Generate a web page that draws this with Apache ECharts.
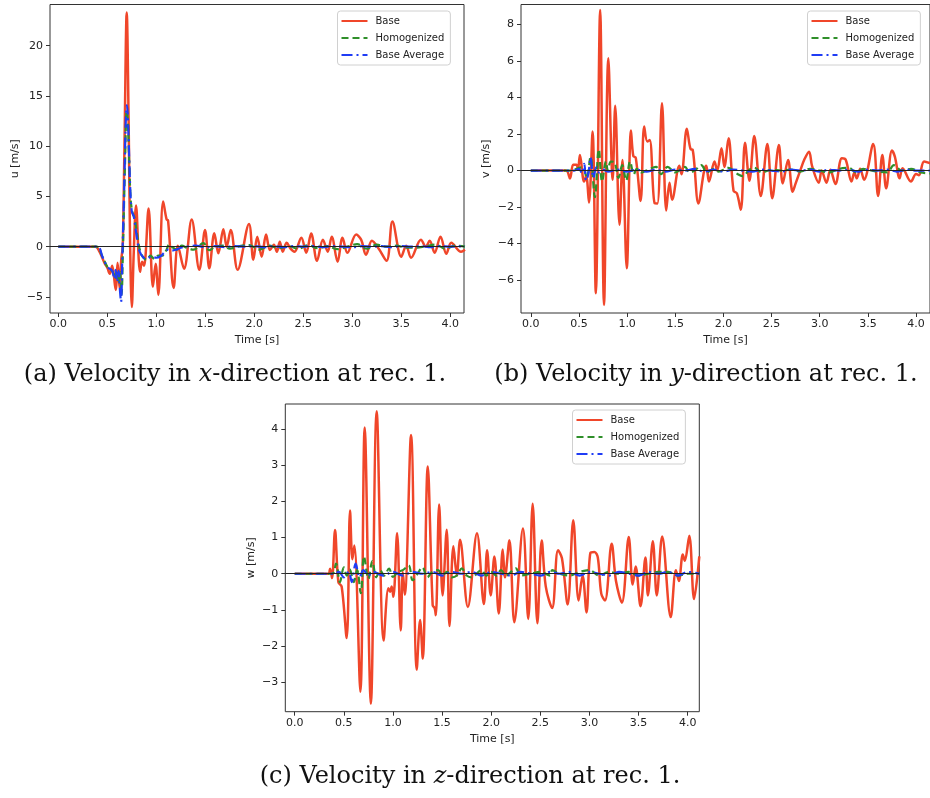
<!DOCTYPE html>
<html><head><meta charset="utf-8">
<script src="https://cdn.jsdelivr.net/npm/echarts@6/dist/echarts.min.js"></script>
<style>html,body{margin:0;padding:0;background:#fff}#c{width:930px;height:798px}</style>
</head><body><div id="c"></div>
<script>
// ---- data (time [s], value [m/s]) ----
const baseU = [[0,0],[0.38,0],[0.42,-0.5],[0.47,-1.6],[0.5,-2.1],[0.525,-2.7],[0.55,-1.9],[0.585,-4.3],[0.605,-1.6],[0.625,-4.1],[0.642,-1.3],[0.657,0],[0.675,10],[0.698,23.3],[0.718,12],[0.733,0],[0.75,-6.0],[0.77,-0.5],[0.793,4.1],[0.834,-2.5],[0.855,-1.5],[0.875,-1.9],[0.921,3.8],[0.965,-4.0],[0.993,-1.7],[1.02,-4.8],[1.07,4.5],[1.105,2.7],[1.12,2.6],[1.177,-4.1],[1.22,0.1],[1.283,-2.2],[1.361,2.7],[1.439,-2.3],[1.497,1.66],[1.541,-2.15],[1.592,1.33],[1.633,-0.66],[1.684,1.73],[1.718,0],[1.759,1.66],[1.83,-2.3],[1.946,2.26],[1.99,-1.3],[2.03,1.0],[2.075,-1.0],[2.12,1.2],[2.16,-0.33],[2.2,0.2],[2.23,-0.5],[2.26,0.5],[2.29,-0.5],[2.33,0.4],[2.37,-0.2],[2.41,-0.5],[2.48,0.9],[2.53,-0.6],[2.58,1.3],[2.64,-1.4],[2.70,0.7],[2.75,-0.5],[2.79,1.0],[2.85,-1.5],[2.90,0.9],[2.95,-0.6],[3.04,1.2],[3.09,0.7],[3.14,-0.8],[3.2,0.6],[3.27,-0.2],[3.35,-1.4],[3.41,2.5],[3.50,-1.0],[3.55,0.1],[3.60,-1.1],[3.70,0.7],[3.75,0],[3.79,0.6],[3.84,-0.6],[3.90,1.0],[3.96,-0.7],[4.01,0.4],[4.11,-0.5],[4.15,-0.3]];
const homU = [[0,0],[0.39,0],[0.45,-1.0],[0.5,-2.0],[0.53,-2.2],[0.56,-2.6],[0.58,-3.2],[0.595,-2.3],[0.615,-3.6],[0.63,-2.5],[0.645,-4.8],[0.66,0],[0.68,8],[0.698,13.5],[0.71,12.3],[0.725,8],[0.74,4.5],[0.76,3.3],[0.78,2.8],[0.81,0.8],[0.84,-0.6],[0.87,-1.1],[0.9,-1.3],[0.94,-0.9],[0.98,-1.2],[1.02,-0.9],[1.06,-0.9],[1.1,-0.4],[1.13,0.2],[1.17,-0.1],[1.21,-0.3],[1.26,0.1],[1.31,-0.1],[1.38,-0.3],[1.48,0.35],[1.54,-0.35],[1.6,0],[1.68,0.1],[1.75,-0.2],[1.85,0.05],[1.95,0.15],[2.05,-0.3],[2.15,0.1],[2.25,-0.15],[2.35,0.05],[2.45,-0.2],[2.55,0.15],[2.65,-0.15],[2.75,0.05],[2.85,-0.25],[2.95,0],[3.05,0.25],[3.15,-0.2],[3.25,0.2],[3.35,0],[3.45,0.1],[3.55,-0.1],[3.65,-0.1],[3.75,0.05],[3.85,0.2],[3.95,-0.2],[4.05,0.1],[4.15,0]];
const avgU = [[0,0],[0.4,0],[0.45,-1.0],[0.5,-2.0],[0.55,-2.4],[0.57,-3.2],[0.585,-2.3],[0.6,-3.5],[0.615,-2.4],[0.63,-4.5],[0.64,-5.5],[0.652,-1.5],[0.67,5],[0.69,13],[0.7,14.1],[0.71,12.8],[0.72,10],[0.735,5.5],[0.75,3.5],[0.77,3.0],[0.8,1.0],[0.83,-0.5],[0.87,-1.1],[0.9,-1.2],[0.95,-1.0],[1.0,-1.1],[1.05,-0.9],[1.08,-0.6],[1.12,-0.3],[1.15,-0.4],[1.2,-0.3],[1.25,-0.1],[1.3,0],[1.4,0.1],[1.5,-0.05],[1.6,0.05],[1.7,-0.05],[1.8,0.05],[1.9,0],[2.0,0.05],[2.1,-0.05],[2.2,0.05],[2.3,-0.05],[2.4,0.05],[2.5,0],[2.6,0.05],[2.7,-0.05],[2.8,0.05],[2.9,0],[3.0,-0.05],[3.1,0.05],[3.2,0],[3.3,0.05],[3.4,-0.05],[3.5,0.05],[3.6,0],[3.7,0.05],[3.8,-0.05],[3.9,0.05],[4.0,0],[4.15,0.05]];

const baseV = [[0,0],[0.365,0],[0.406,-0.43],[0.44,0.32],[0.474,0.32],[0.49,0.1],[0.51,0.85],[0.553,-0.6],[0.575,-0.3],[0.604,-1.75],[0.641,2.14],[0.675,-6.72],[0.72,8.8],[0.76,-7.36],[0.805,6.16],[0.85,-0.5],[0.876,3.55],[0.921,-2.97],[0.952,0.58],[0.996,-5.35],[1.04,2.2],[1.064,0.8],[1.09,0.7],[1.14,-1.66],[1.177,2.41],[1.21,1.59],[1.235,1.68],[1.286,-1.79],[1.314,-1.8],[1.362,3.69],[1.406,-2.19],[1.44,-0.66],[1.467,-1.6],[1.542,0.26],[1.565,-0.2],[1.62,2.29],[1.66,1.17],[1.68,1.15],[1.74,-1.8],[1.8,0],[1.822,0.26],[1.85,-0.6],[1.907,0.5],[1.935,0],[1.98,1.22],[2.01,0.2],[2.053,1.77],[2.105,-1.1],[2.14,-1.25],[2.18,-2.15],[2.224,1.53],[2.27,-0.55],[2.32,1.9],[2.388,-1.39],[2.456,1.46],[2.507,-1.52],[2.576,1.4],[2.616,-0.7],[2.671,0.58],[2.719,-1.16],[2.75,-0.7],[2.8,0.04],[2.838,0.58],[2.889,1.04],[2.92,0.26],[2.99,-0.66],[3.02,0],[3.07,-0.66],[3.11,0.05],[3.163,-0.73],[3.23,0.68],[3.27,0.6],[3.33,-0.6],[3.36,-0.1],[3.385,-0.42],[3.42,0.1],[3.46,-0.5],[3.555,1.46],[3.606,-1.39],[3.65,0.86],[3.69,-0.97],[3.75,1.1],[3.78,0.77],[3.83,-0.42],[3.86,0.13],[3.947,-0.6],[4.0,-0.18],[4.03,-0.25],[4.084,0.5],[4.15,0.4]];
const homV = [[0,0],[0.4,0],[0.45,0.05],[0.5,0.15],[0.54,0.18],[0.58,-0.4],[0.62,0.75],[0.665,-1.45],[0.706,1.17],[0.74,-0.6],[0.78,0.5],[0.8,0],[0.83,0.5],[0.87,0.45],[0.91,-0.4],[0.95,0.3],[0.99,-0.55],[1.03,0.5],[1.07,-0.2],[1.1,0.1],[1.15,-0.1],[1.2,0],[1.3,0.2],[1.35,-0.2],[1.42,0.2],[1.5,-0.1],[1.55,0.05],[1.6,0.2],[1.65,-0.1],[1.7,0],[1.77,0.3],[1.83,-0.1],[1.9,0.1],[1.95,-0.05],[2.05,0.15],[2.15,-0.2],[2.2,-0.3],[2.27,0.05],[2.32,0.15],[2.4,-0.1],[2.5,0.05],[2.6,0],[2.7,0.05],[2.8,-0.05],[2.9,0.1],[3.0,0],[3.1,-0.1],[3.2,0.1],[3.3,0.15],[3.38,-0.1],[3.45,0.1],[3.5,0.05],[3.6,-0.05],[3.7,-0.1],[3.77,0.3],[3.85,0],[3.95,0.1],[4.05,-0.1],[4.15,-0.15]];
const avgV = [[0,0],[0.45,0],[0.5,0.1],[0.53,-0.15],[0.555,0.37],[0.575,-0.55],[0.6,-0.1],[0.62,0.72],[0.65,-0.4],[0.68,0.18],[0.71,-0.1],[0.75,0.05],[0.8,-0.05],[0.9,0.05],[1.0,-0.05],[1.1,0.05],[1.2,-0.05],[1.3,0.05],[1.4,-0.05],[1.5,0.05],[1.6,0],[1.7,0.1],[1.8,-0.05],[1.9,0.05],[2.0,-0.05],[2.1,0.05],[2.2,0],[2.3,-0.05],[2.4,0.05],[2.5,0],[2.6,-0.05],[2.7,0.05],[2.8,0],[2.9,0.05],[3.0,-0.05],[3.1,0.05],[3.2,0],[3.3,0.05],[3.4,-0.05],[3.5,0.05],[3.6,0],[3.7,0.05],[3.8,-0.05],[3.9,0.05],[4.0,0],[4.15,0]];

const baseW = [[0,0],[0.34,0],[0.36,0.14],[0.38,-0.12],[0.41,1.21],[0.444,-0.23],[0.478,-0.36],[0.529,-1.78],[0.563,1.75],[0.587,0.4],[0.607,0.78],[0.668,-3.27],[0.712,4.05],[0.775,-3.6],[0.834,4.5],[0.905,-1.85],[0.953,-0.4],[0.97,-0.5],[0.987,-0.35],[1.004,-0.64],[1.042,1.12],[1.079,-1.57],[1.1,0.05],[1.12,-0.58],[1.184,3.84],[1.242,-2.66],[1.276,-1.28],[1.303,-2.35],[1.354,2.97],[1.404,-0.87],[1.425,-0.96],[1.436,-1.15],[1.47,1.92],[1.505,-0.6],[1.547,1.22],[1.575,-1.45],[1.615,0.76],[1.65,-0.05],[1.683,0.94],[1.762,-0.92],[1.855,1.12],[1.925,-0.84],[1.958,0.65],[1.995,-0.6],[2.032,0.48],[2.077,-1.1],[2.117,0.67],[2.14,-0.1],[2.185,0.93],[2.235,-1.34],[2.323,1.25],[2.377,-1.25],[2.422,1.94],[2.47,-1.37],[2.514,0.92],[2.555,-0.35],[2.62,-0.95],[2.68,0.65],[2.72,0.43],[2.778,-0.85],[2.835,1.48],[2.89,-0.74],[2.93,-0.05],[2.97,-1.07],[3.01,0.58],[3.05,0.6],[3.085,0.45],[3.12,-0.55],[3.158,-0.74],[3.226,0.83],[3.27,-0.2],[3.33,-0.8],[3.40,1.02],[3.44,-0.3],[3.47,0.2],[3.52,-0.9],[3.57,0.45],[3.595,-0.6],[3.645,0.9],[3.685,-0.6],[3.74,1.03],[3.827,-1.2],[3.88,0.1],[3.91,-0.2],[3.95,0.53],[3.97,0.36],[4.016,1.05],[4.065,-0.7],[4.118,0.48]];
const homW = [[0,0],[0.38,0],[0.42,0.28],[0.46,-0.23],[0.5,0.18],[0.53,-0.05],[0.56,0.12],[0.6,-0.23],[0.635,0.1],[0.672,-0.54],[0.705,0.48],[0.75,-0.14],[0.79,0.35],[0.83,-0.1],[0.87,0.1],[0.91,-0.05],[0.96,0.14],[1.0,-0.09],[1.05,0.05],[1.1,0.1],[1.16,0.23],[1.2,-0.18],[1.25,0],[1.3,0.18],[1.35,-0.1],[1.4,0.05],[1.46,0.1],[1.5,-0.05],[1.55,0.05],[1.6,-0.1],[1.65,-0.05],[1.7,0.15],[1.75,-0.05],[1.8,-0.1],[1.9,0.1],[1.95,-0.05],[2.0,0.05],[2.05,-0.05],[2.1,0.1],[2.15,-0.05],[2.2,0.05],[2.25,0.15],[2.3,-0.05],[2.4,0],[2.5,0.05],[2.6,-0.05],[2.62,0.1],[2.7,0],[2.8,-0.05],[2.9,0.05],[3.0,0.1],[3.1,-0.05],[3.2,0.05],[3.3,0],[3.4,0.05],[3.5,-0.05],[3.6,0],[3.7,0.05],[3.8,0.05],[3.9,-0.05],[4.0,0],[4.12,0]];
const avgW = [[0,0],[0.4,0],[0.45,0.05],[0.5,-0.1],[0.55,0.05],[0.58,-0.23],[0.62,0.28],[0.66,-0.1],[0.7,0.1],[0.75,-0.05],[0.8,0.05],[0.9,-0.05],[1.0,0.05],[1.1,-0.05],[1.2,0.05],[1.3,0],[1.4,0.05],[1.5,-0.05],[1.6,0.05],[1.7,0],[1.8,0.05],[1.9,-0.05],[2.0,0.05],[2.1,0],[2.2,-0.05],[2.3,0.05],[2.4,0],[2.5,-0.05],[2.6,0.05],[2.7,0],[2.8,0.05],[2.9,-0.05],[3.0,0.05],[3.1,0],[3.2,-0.05],[3.3,0.05],[3.4,0],[3.5,-0.05],[3.6,0.05],[3.7,0],[3.8,0.05],[3.9,-0.05],[4.0,0.05],[4.12,0]];

const xTicks = [0,0.5,1.0,1.5,2.0,2.5,3.0,3.5,4.0];
const uTicks = [-5,0,5,10,15,20];
const vTicks = [-6,-4,-2,0,2,4,6,8];
const wTicks = [-3,-2,-1,0,1,2,3,4];
const seriesNames = ['Base','Homogenized','Base Average'];
const yNames = ['u [m/s]','v [m/s]','w [m/s]'];
const xName = 'Time [s]';
const captions = [
  ['(a) Velocity in ','x','-direction at rec. 1.'],
  ['(b) Velocity in ','y','-direction at rec. 1.'],
  ['(c) Velocity in ','z','-direction at rec. 1.']
];

// ---- layout / style ----
const FONT = 'DejaVu Sans';
const COLORS = ['#f0462a','#2f8f2a','#1f3cf5'];
const grids = [
  {left:50, top:4.5, width:414, height:308.5, xmin:-0.085, xmax:4.14, ymin:-6.6, ymax:24.1, ticks:uTicks},
  {left:521, top:4.5, width:415, height:308.5, xmin:-0.102, xmax:4.145, ymin:-7.8, ymax:9.1, ticks:vTicks},
  {left:285.3, top:404, width:414, height:307.7, xmin:-0.096, xmax:4.118, ymin:-3.82, ymax:4.70, ticks:wTicks}
];
const legendPos = [{left:337.5, top:11},{left:807.5, top:11},{left:572.5, top:410}];
const capPos = [[235,375],[706,375],[470,777]];
const data = [[baseU,homU,avgU],[baseV,homV,avgV],[baseW,homW,avgW]];

const minus = s => String(s).replace('-', '\u2212');

const option = {
  animation:false,
  backgroundColor:'#ffffff',
  grid: grids.map(g => ({left:g.left, top:g.top, width:g.width, height:g.height, show:true, borderColor:'#333', borderWidth:1, backgroundColor:'transparent', containLabel:false})),
  xAxis: grids.map((g,i) => ({
    type:'value', gridIndex:i, min:g.xmin, max:g.xmax,
    name:xName, nameLocation:'middle', nameGap:22,
    nameTextStyle:{fontFamily:FONT, fontSize:11, color:'#222'},
    axisLine:{show:false, onZero:false},
    axisTick:{show:true, length:4, inside:false, customValues:xTicks, lineStyle:{color:'#333'}},
    axisLabel:{customValues:xTicks, formatter:v=>minus(v.toFixed(1)), fontFamily:FONT, fontSize:11, color:'#222', margin:6},
    splitLine:{show:false}
  })),
  yAxis: grids.map((g,i) => ({
    type:'value', gridIndex:i, min:g.ymin, max:g.ymax,
    name:yNames[i], nameLocation:'middle', nameGap:29,
    nameTextStyle:{fontFamily:FONT, fontSize:11, color:'#222'},
    axisLine:{show:false, onZero:false},
    axisTick:{show:true, length:4, inside:false, customValues:g.ticks, lineStyle:{color:'#333'}},
    axisLabel:{customValues:g.ticks, formatter:v=>minus(v), fontFamily:FONT, fontSize:11, color:'#222', margin:7},
    splitLine:{show:false}
  })),
  legend: legendPos.map(p => ({
    left:p.left, top:p.top, orient:'vertical', data:seriesNames,
    itemWidth:26, itemHeight:10, itemGap:7,
    padding:[5,6,5,3],
    itemStyle:{opacity:0, borderWidth:0},
    borderColor:'#d0d0d0', borderWidth:1, borderRadius:3, backgroundColor:'rgba(255,255,255,0.85)',
    textStyle:{fontFamily:FONT, fontSize:10, color:'#222', padding:[0,0,0,3]},
    selectedMode:false
  })),
  series: [],
  graphic: captions.map((c,i) => ({
    type:'text', x:capPos[i][0], y:capPos[i][1], silent:true,
    style:{
      text:'{n|'+c[0]+'}{i|'+c[1]+'}{n|'+c[2]+'}',
      textAlign:'center', verticalAlign:'middle',
      rich:{
        n:{fontFamily:'DejaVu Serif', fontSize:24, fill:'#111'},
        i:{fontFamily:'DejaVu Serif', fontSize:24, fontStyle:'italic', fill:'#111'}
      }
    }
  }))
};

const dashes = ['solid',[7,4],[11,4,2,4]];
const widths = [2.5,2.2,2.2];
for (let g=0; g<3; g++) {
  for (let s=0; s<3; s++) {
    const ser = {
      type:'line', name:seriesNames[s], xAxisIndex:g, yAxisIndex:g,
      data:data[g][s], showSymbol:false, symbol:'none', smooth:0.35,
      z:2+s, color:COLORS[s],
      lineStyle:{color:COLORS[s], width:widths[s], type:dashes[s]},
      emphasis:{disabled:true}
    };
    if (s===0) {
      ser.markLine = {silent:true, symbol:'none', label:{show:false}, animation:false,
        lineStyle:{color:'#222', width:1, type:'solid'}, data:[{yAxis:0}]};
    }
    option.series.push(ser);
  }
}

const chart = echarts.init(document.getElementById('c'), null, {renderer:'canvas'});
chart.setOption(option);
</script>
</body></html>
